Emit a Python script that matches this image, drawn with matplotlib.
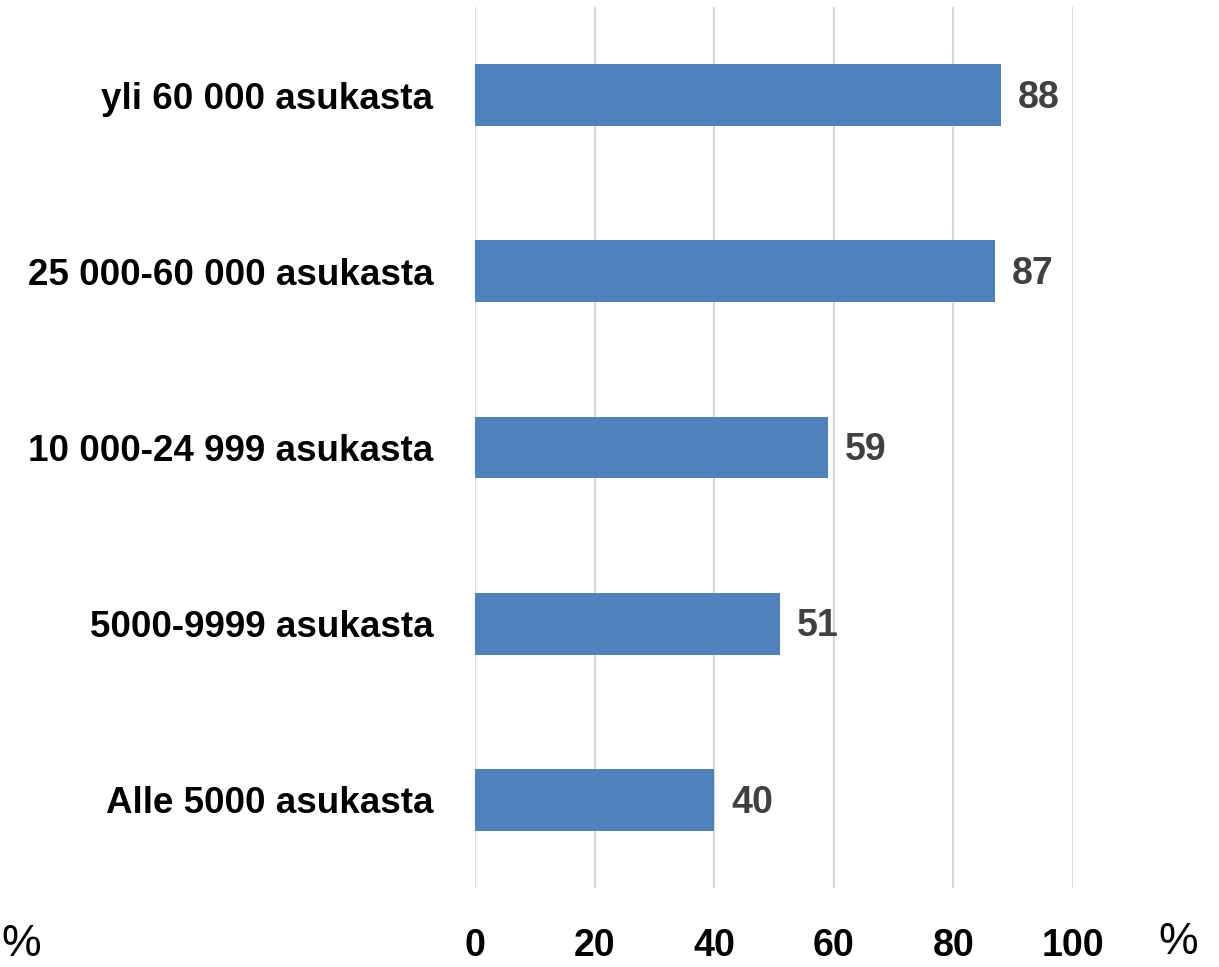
import matplotlib
matplotlib.use("Agg")
import matplotlib.pyplot as plt
from matplotlib import font_manager

names = {f.name for f in font_manager.fontManager.ttflist}
fam = 'Liberation Sans Narrow' if 'Liberation Sans Narrow' in names else 'Liberation Sans'
plt.rcParams['font.family'] = [fam, 'DejaVu Sans']

categories = ["Alle 5000 asukasta", "5000-9999 asukasta", "10 000-24 999 asukasta",
              "25 000-60 000 asukasta", "yli 60 000 asukasta"]
values = [40, 51, 59, 87, 88]
xticks = [0, 20, 40, 60, 80, 100]

fig = plt.figure(figsize=(12.19, 9.67), dpi=100)
ax = fig.add_axes([0.3897, 0.0817, 0.4906, 0.9111])
ypos = list(range(len(categories)))
ax.barh(ypos, values, height=0.35, color='#4F81BD', zorder=3)
for y, v in zip(ypos, values):
    ax.annotate(str(v), (v, y), xytext=(12, -2), textcoords='offset points',
                ha='left', va='center', fontsize=27, fontweight='bold', color='#404040')
ax.set_xlim(0, 100)
ax.set_ylim(-0.5, len(categories) - 0.5)
ax.set_xticks(xticks)
ax.set_xticklabels([str(t) for t in xticks], fontsize=27, fontweight='bold')
ax.set_yticks(ypos)
ax.set_yticklabels(categories, fontsize=26.5, fontweight='bold')
ax.tick_params(axis='both', length=0)
ax.tick_params(axis='x', pad=29)
ax.tick_params(axis='y', pad=30)
ax.grid(axis='x', color='#D9D9D9', linewidth=1.5, zorder=0)
for s in ax.spines.values():
    s.set_visible(False)
fig.text(1178/1219, 1 - 942/967, '%', fontsize=32, ha='center', va='center')
fig.text(1/1219, 1 - 945/967, '%', fontsize=32, ha='left', va='center')
fig.savefig('out.png', dpi=100)
